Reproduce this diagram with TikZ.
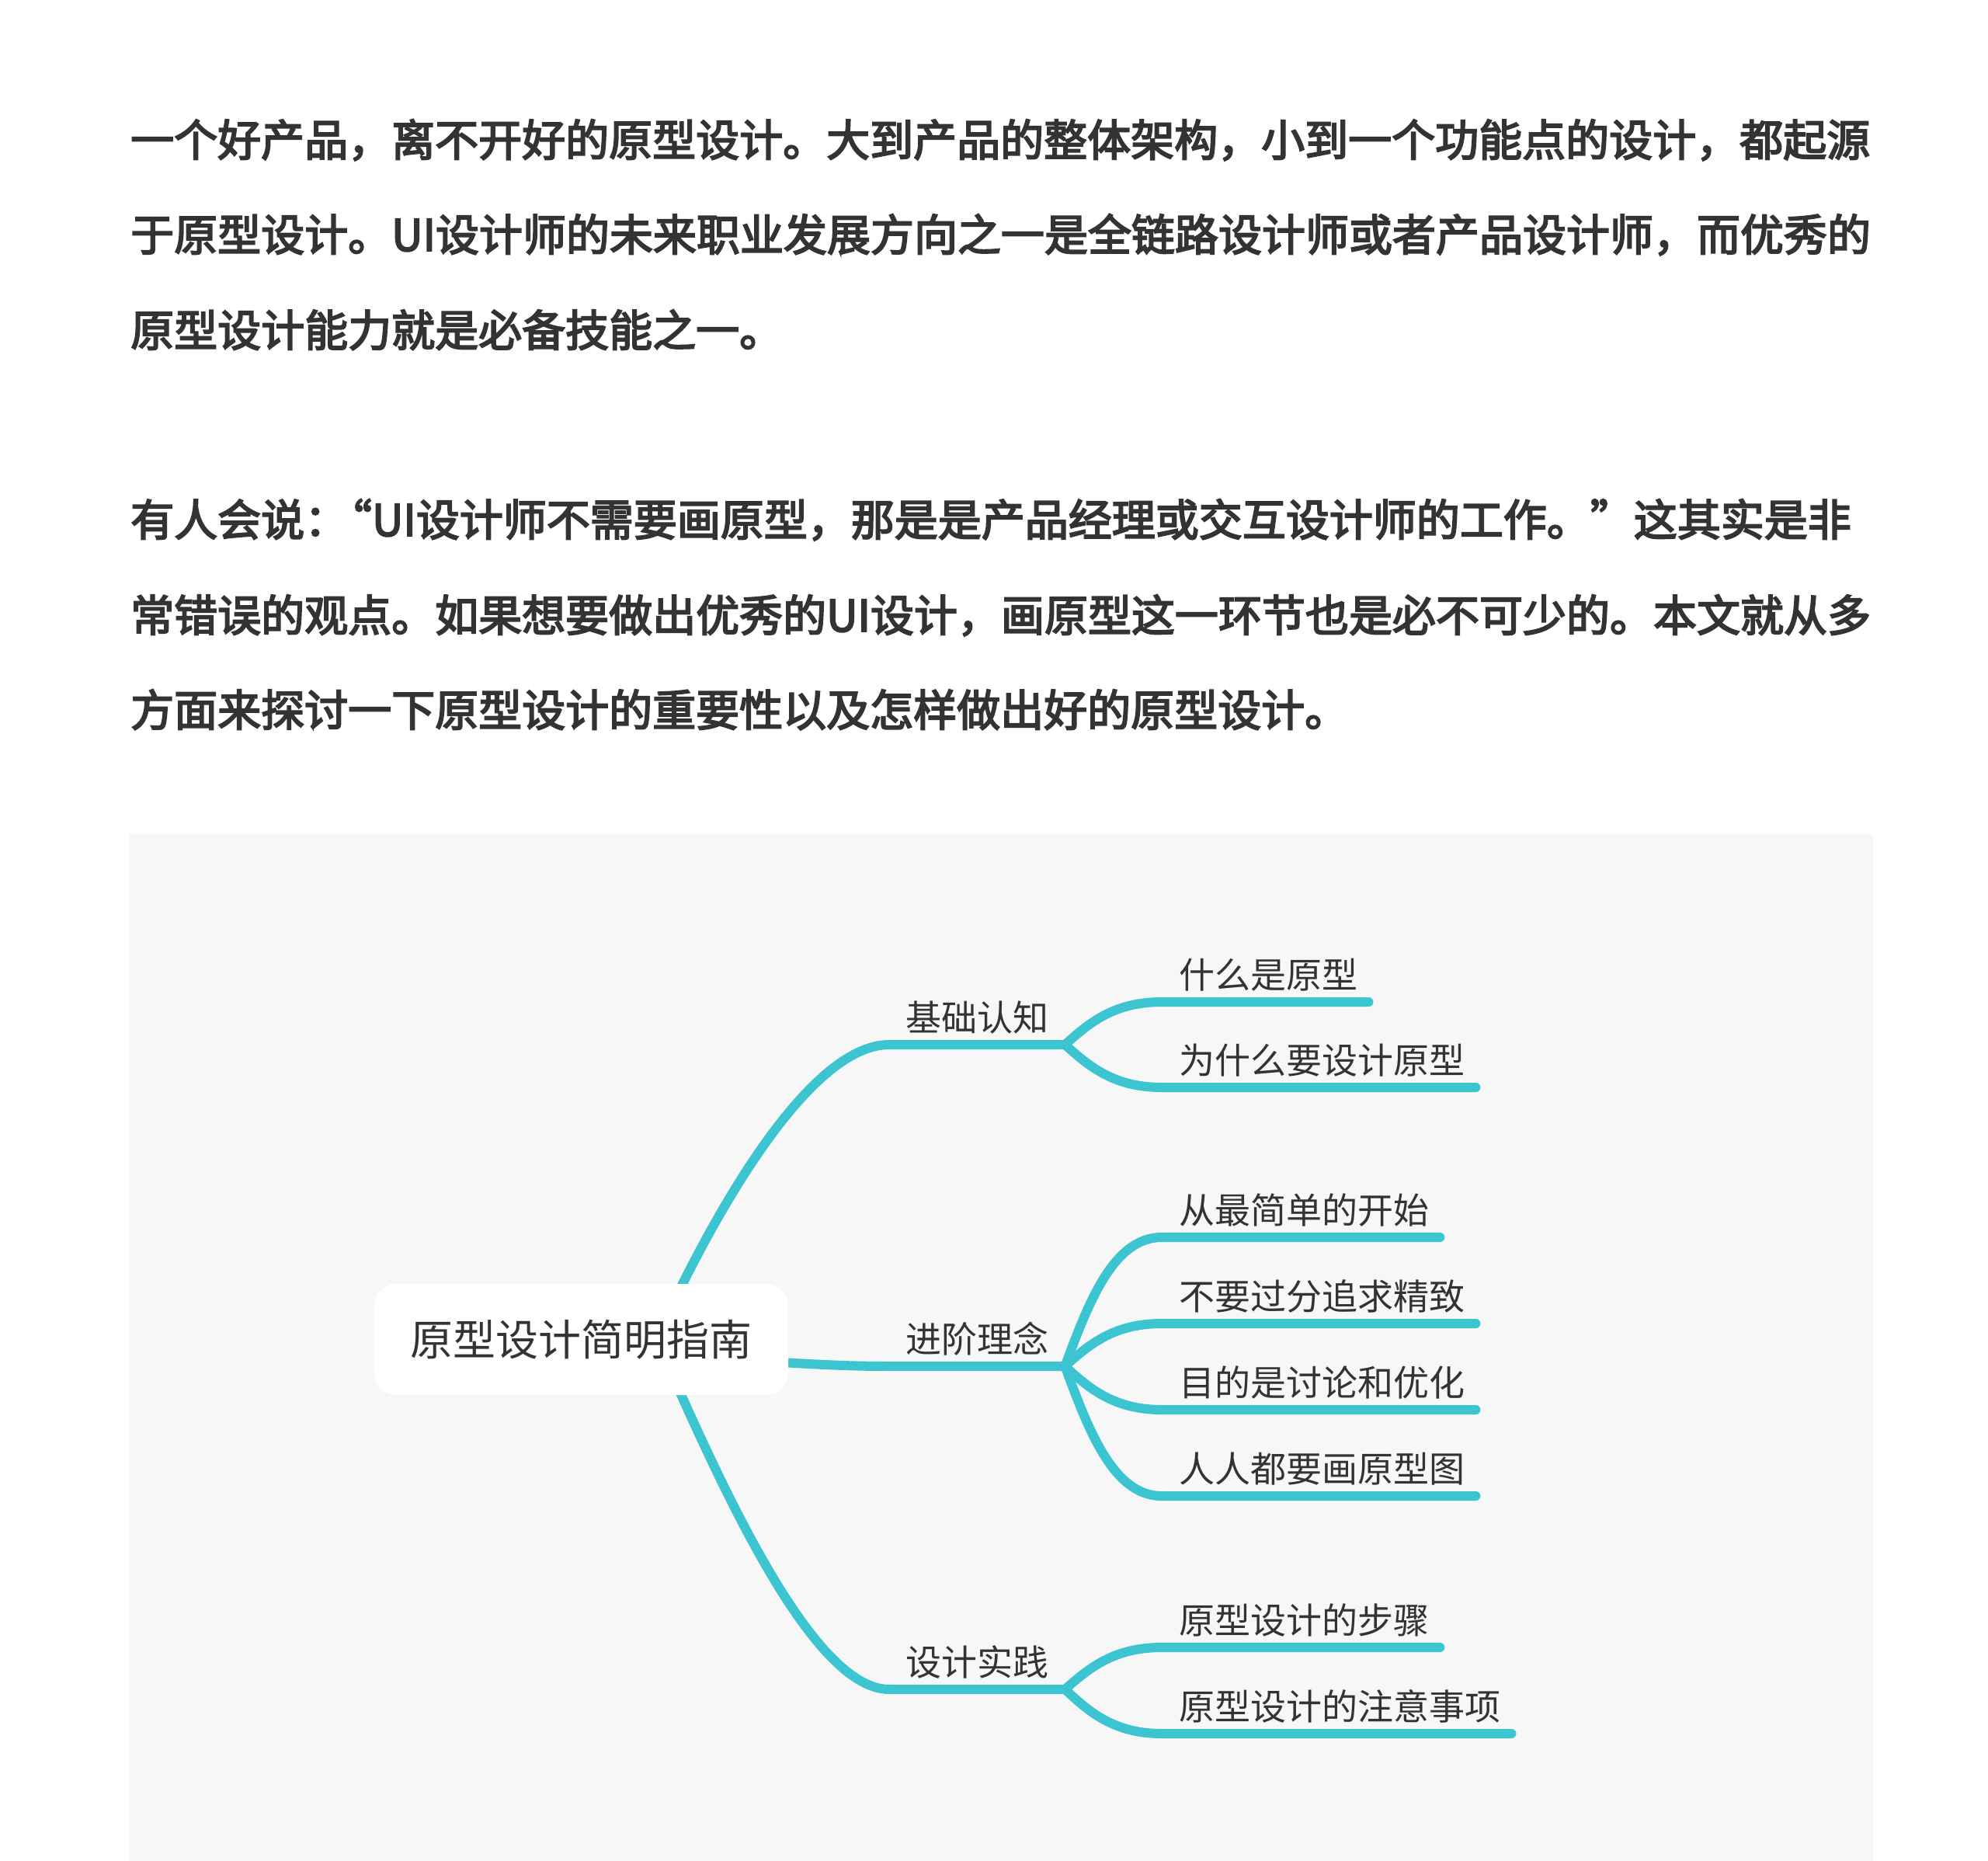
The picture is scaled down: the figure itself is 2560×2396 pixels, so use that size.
\documentclass[tikz,border=0pt]{standalone}
\usepackage{fontspec}
\newfontfamily\cjk{Noto Sans CJK SC}
\newfontfamily\cjkmed[FakeBold=3.5]{Noto Sans CJK SC}
\usetikzlibrary{calc}
\definecolor{branchteal}{RGB}{60,196,209}
\definecolor{txtgray}{RGB}{51,51,51}
\definecolor{panelgray}{RGB}{247,247,247}
\tikzset{
  bodyline/.style={anchor=base west, inner sep=0pt, text=txtgray, font=\cjkmed\fontsize{56pt}{60pt}\selectfont},
  rootbox/.style={fill=white, rounded corners=28pt, minimum width=533pt, minimum height=143pt, inner sep=0pt, text height=42pt, text depth=0pt, text=txtgray, font=\cjk\fontsize{55pt}{60pt}\selectfont},
  branchlabel/.style={anchor=base west, inner xsep=21pt, inner ysep=0pt, text=txtgray, font=\cjk\fontsize{46pt}{50pt}\selectfont},
  sublabel/.style={anchor=base west, inner xsep=22pt, inner ysep=0pt, text=txtgray, font=\cjk\fontsize{46pt}{50pt}\selectfont},
  conn/.style={draw=branchteal, line width=12pt, line cap=round, line join=round},
}
\begin{document}
\begin{tikzpicture}[x=1pt, y=-1pt]
\useasboundingbox (0,0) rectangle (2560,2396);
\fill[white] (0,0) rectangle (2560,2396);

% body text
\node[bodyline] (l1) at (168,201) {一个好产品，离不开好的原型设计。大到产品的整体架构，小到一个功能点的设计，都起源};
\node[bodyline] (l2) at (168,323) {于原型设计。UI设计师的未来职业发展方向之一是全链路设计师或者产品设计师，而优秀的};
\node[bodyline] (l3) at (168,446) {原型设计能力就是必备技能之一。};
\node[bodyline] (l4) at (168,690) {有人会说：\makebox[0.55em][r]{“}UI设计师不需要画原型，那是是产品经理或交互设计师的工作。”这其实是非};
\node[bodyline] (l5) at (168,813) {常错误的观点。如果想要做出优秀的UI设计，画原型这一环节也是必不可少的。本文就从多};
\node[bodyline] (l6) at (168,935) {方面来探讨一下原型设计的重要性以及怎样做出好的原型设计。};

% panel
\fill[panelgray] (166,1074) rectangle (2412,2396);

% branch labels
\node[branchlabel] (b1) at (1145,1327.5) {基础认知};
\node[branchlabel] (b2) at (1145,1741.5) {进阶理念};
\node[branchlabel] (b3) at (1145,2157.5) {设计实践};
\coordinate (b1l) at (1145,1345);
\coordinate (b2l) at (1145,1759);
\coordinate (b3l) at (1145,2175);
\coordinate (j1) at ($(b1.base east)+(0,17.5)$);
\coordinate (j2) at ($(b2.base east)+(0,17.5)$);
\coordinate (j3) at ($(b3.base east)+(0,17.5)$);

% sub labels
\node[sublabel] (s1) at (1496,1272.5) {什么是原型};
\node[sublabel] (s2) at (1496,1382.5) {为什么要设计原型};
\node[sublabel] (s3) at (1496,1575.5) {从最简单的开始};
\node[sublabel] (s4) at (1496,1686.5) {不要过分追求精致};
\node[sublabel] (s5) at (1496,1797.5) {目的是讨论和优化};
\node[sublabel] (s6) at (1496,1908.5) {人人都要画原型图};
\node[sublabel] (s7) at (1496,2103.5) {原型设计的步骤};
\node[sublabel] (s8) at (1496,2214.5) {原型设计的注意事项};
\foreach \i/\y in {1/1290,2/1400,3/1593,4/1704,5/1815,6/1926,7/2121,8/2232}{
  \coordinate (s\i l) at (1496,\y);
  \coordinate (s\i r) at ($(s\i.base east)+(-8,17.5)$);
}

% root connectors (drawn under root box)
\coordinate (rc) at (845,1724);
\coordinate (rm) at (850,1750);
\draw[conn] (rc) .. controls (915,1570) and (1040,1345) .. (b1l) -- (j1);
\draw[conn] (rm) .. controls (1000,1750) and (1040,1759) .. (b2l) -- (j2);
\draw[conn] (rc) .. controls (915,1880) and (1040,2175) .. (b3l) -- (j3);

% sub connectors
\draw[conn] (j1) .. controls (1402,1317.5) and (1434,1290) .. (s1l) -- (s1r);
\draw[conn] (j1) .. controls (1402,1372.5) and (1434,1400) .. (s2l) -- (s2r);
\draw[conn] (j2) .. controls (1402,1676) and (1434,1593) .. (s3l) -- (s3r);
\draw[conn] (j2) .. controls (1402,1731.5) and (1434,1704) .. (s4l) -- (s4r);
\draw[conn] (j2) .. controls (1402,1787) and (1434,1815) .. (s5l) -- (s5r);
\draw[conn] (j2) .. controls (1402,1842.5) and (1434,1926) .. (s6l) -- (s6r);
\draw[conn] (j3) .. controls (1402,2148) and (1434,2121) .. (s7l) -- (s7r);
\draw[conn] (j3) .. controls (1402,2203.5) and (1434,2232) .. (s8l) -- (s8r);

% root
\node[rootbox] (root) at (748.5,1724.5) {原型设计简明指南};
\end{tikzpicture}
\end{document}
